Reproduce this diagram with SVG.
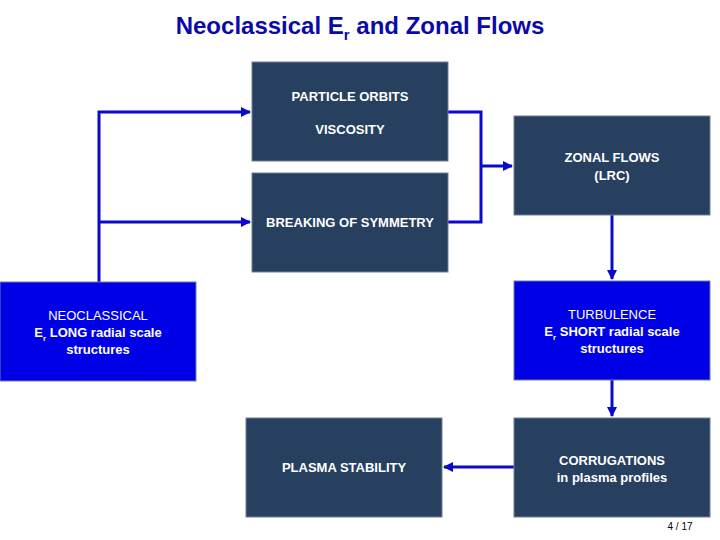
<svg xmlns="http://www.w3.org/2000/svg" width="720" height="540" viewBox="0 0 720 540">
<defs>
<style>
.d{fill:#28405F;stroke:#6E7F99;stroke-width:1}
.b{fill:#0000E6;stroke:#6E7F99;stroke-width:1}
text{font-family:"Liberation Sans",Arial,sans-serif;fill:#fff;font-size:13px;text-anchor:middle}
.bo{font-weight:bold}
.c{fill:none;stroke:#0A0ACC;stroke-width:3}
</style>
<marker id="a" viewBox="0 0 10 10" refX="9" refY="5" markerWidth="3.5" markerHeight="3.5" orient="auto"><path d="M0,0L10,5L0,10z" fill="#0A0ACC"/></marker>
</defs>
<rect width="720" height="540" fill="#fff"/>
<text x="360" y="34" style="font-size:24px;fill:#0A0AAA;font-weight:bold">Neoclassical E<tspan dy="6" font-size="15">r</tspan><tspan dy="-6"> and Zonal Flows</tspan></text>
<g id="connectors">
<path class="c" d="M99,282V112H250" marker-end="url(#a)"/>
<path class="c" d="M99,222H250" marker-end="url(#a)"/>
<path class="c" d="M448,112H481V222H448"/>
<path class="c" d="M481,166H512" marker-end="url(#a)"/>
<path class="c" d="M612,215V279" marker-end="url(#a)"/>
<path class="c" d="M612,380V416" marker-end="url(#a)"/>
<path class="c" d="M514,467H444" marker-end="url(#a)"/>
</g>
<g id="orbits"><rect class="d" x="252" y="62" width="196" height="99"/><text class="bo" x="350" y="101">PARTICLE ORBITS</text><text class="bo" x="350" y="134">VISCOSITY</text></g>
<g id="symmetry"><rect class="d" x="252" y="173" width="196" height="99"/><text class="bo" x="350" y="227">BREAKING OF SYMMETRY</text></g>
<g id="zonal"><rect class="d" x="514" y="116" width="196" height="99"/><text class="bo" x="612" y="162">ZONAL FLOWS</text><text class="bo" x="612" y="180">(LRC)</text></g>
<g id="neo"><rect class="b" x="0" y="282" width="196" height="99"/><text x="98" y="320">NEOCLASSICAL</text><text class="bo" x="98" y="337">E<tspan dy="4" font-size="8">r</tspan><tspan dy="-4"> LONG radial scale</tspan></text><text class="bo" x="98" y="354">structures</text></g>
<g id="turb"><rect class="b" x="514" y="281" width="196" height="99"/><text x="612" y="319">TURBULENCE</text><text class="bo" x="612" y="336">E<tspan dy="4" font-size="8">r</tspan><tspan dy="-4"> SHORT radial scale</tspan></text><text class="bo" x="612" y="353">structures</text></g>
<g id="stability"><rect class="d" x="246" y="418" width="196" height="99"/><text class="bo" x="344" y="472">PLASMA STABILITY</text></g>
<g id="corr"><rect class="d" x="514" y="418" width="196" height="99"/><text class="bo" x="612" y="465">CORRUGATIONS</text><text class="bo" x="612" y="482">in plasma profiles</text></g>
<text x="680" y="530" style="fill:#000;font-size:10px">4 / 17</text>
</svg>
